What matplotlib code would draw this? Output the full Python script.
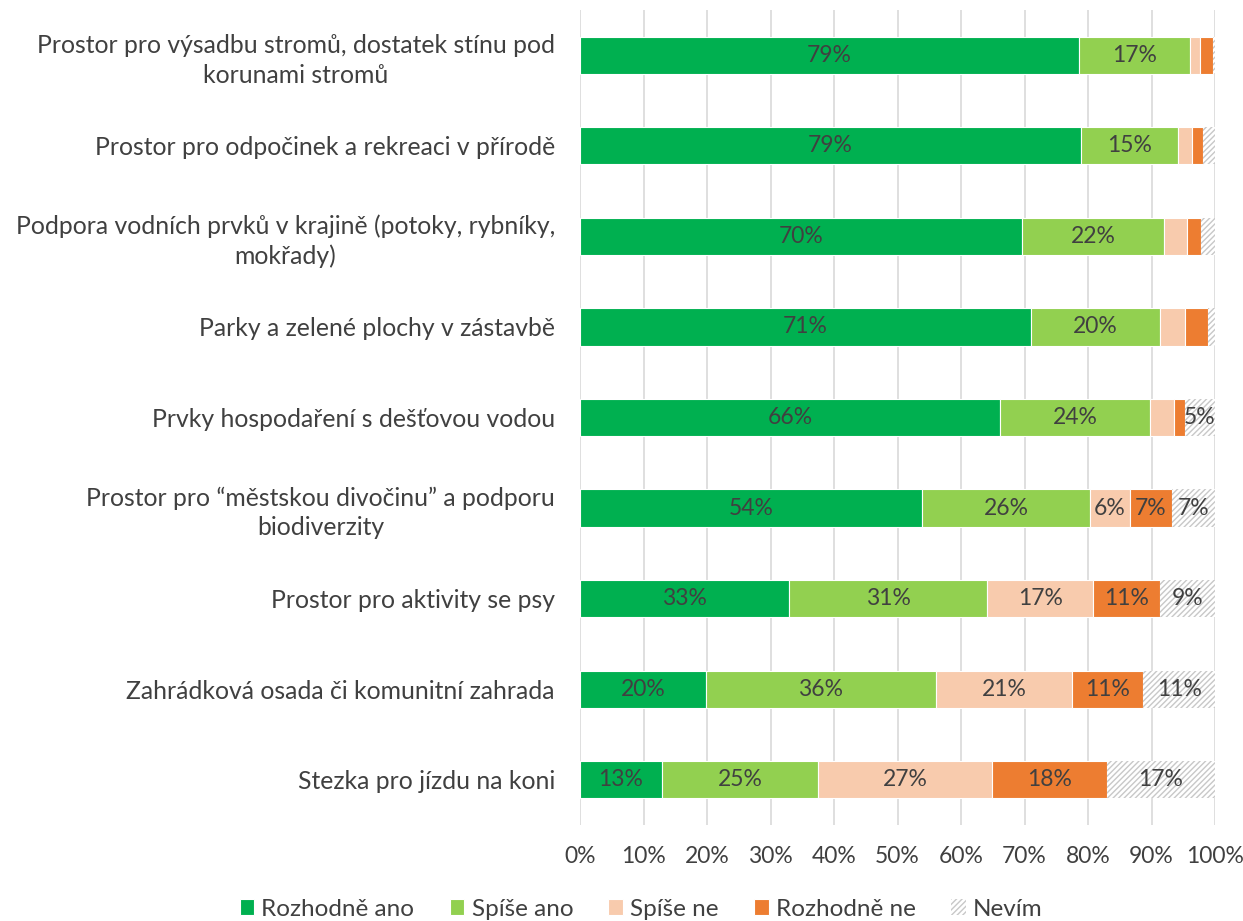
import matplotlib.pyplot as plt
import numpy as np

plt.rcParams['font.family'] = ['Lato', 'DejaVu Sans']

categories = [
    "Prostor pro výsadbu stromů, dostatek stínu pod\nkorunami stromů",
    "Prostor pro odpočinek a rekreaci v přírodě",
    "Podpora vodních prvků v krajině (potoky, rybníky,\nmokřady)",
    "Parky a zelené plochy v zástavbě",
    "Prvky hospodaření s dešťovou vodou",
    "Prostor pro \u201cměstskou divočinu\u201d a podporu\nbiodiverzity",
    "Prostor pro aktivity se psy",
    "Zahrádková osada či komunitní zahrada",
    "Stezka pro jízdu na koni",
]
series_names = ["Rozhodně ano", "Spíše ano", "Spíše ne", "Rozhodně ne", "Nevím"]
rozhodne_ano = [78.6, 78.9, 69.6, 71.0, 66.2, 53.9, 32.9, 19.8, 12.9]
spise_ano = [17.4, 15.3, 22.4, 20.3, 23.6, 26.4, 31.2, 36.3, 24.6]
spise_ne = [1.6, 2.2, 3.6, 4.0, 3.7, 6.3, 16.7, 21.4, 27.4]
rozhodne_ne = [2.1, 1.7, 2.2, 3.6, 1.8, 6.6, 10.6, 11.2, 18.1]
nevim = [0.3, 1.9, 2.2, 1.1, 4.7, 6.8, 8.6, 11.3, 17.0]

colors = ["#00b050", "#92d050", "#f8cbad", "#ed7d31", "white"]
text_color = "#404040"

fig = plt.figure(figsize=(12.43, 9.21), dpi=100)
ax = fig.add_axes([580 / 1243, 1 - 825 / 921, 635 / 1243, 815 / 921])

y = np.arange(len(categories))
left = np.zeros(len(categories))
all_series = [rozhodne_ano, spise_ano, spise_ne, rozhodne_ne, nevim]
handles = []
for name, vals, col in zip(series_names, all_series, colors):
    vals = np.array(vals)
    if name == "Nevím":
        bars = ax.barh(y, vals, left=left, height=0.41, color="white",
                       edgecolor="#c8c8c8", hatch="//////", linewidth=0, label=name, zorder=3)
    else:
        bars = ax.barh(y, vals, left=left, height=0.41, color=col,
                       edgecolor="white", linewidth=0.8, label=name, zorder=3)
    # labels only on segments that are wide enough
    for xi, yi, v in zip(left, y, vals):
        if v >= 4.5:
            ax.text(xi + v / 2, yi, f"{v:.0f}%", ha="center", va="center",
                    fontsize=16.5, color=text_color, zorder=4)
    left = left + vals
    handles.append(bars)

ax.set_xlim(0, 100)
ax.set_ylim(len(categories) - 0.5, -0.5)
ax.set_xticks(np.arange(0, 101, 10))
ax.set_xticklabels([f"{t}%" for t in range(0, 101, 10)])
ax.set_yticks(y)
ax.set_yticklabels(categories, multialignment="center", linespacing=1.33)
ax.tick_params(axis="both", length=0, labelsize=17.8, colors=text_color)
ax.tick_params(axis="x", labelsize=16.5, pad=15)
ax.tick_params(axis="y", pad=18)
ax.xaxis.grid(True, color="#d9d9d9", linewidth=1.2, zorder=0)
ax.set_axisbelow(True)
for s in ax.spines.values():
    s.set_visible(False)

leg = fig.legend(handles=handles, labels=series_names, loc="center",
                 bbox_to_anchor=(641 / 1243, 1 - 909 / 921), ncol=5, frameon=False,
                 fontsize=17.5, handlelength=0.6, handleheight=0.6, handletextpad=0.3,
                 columnspacing=1.45)
for t in leg.get_texts():
    t.set_color(text_color)

fig.savefig("out.png", dpi=100)
